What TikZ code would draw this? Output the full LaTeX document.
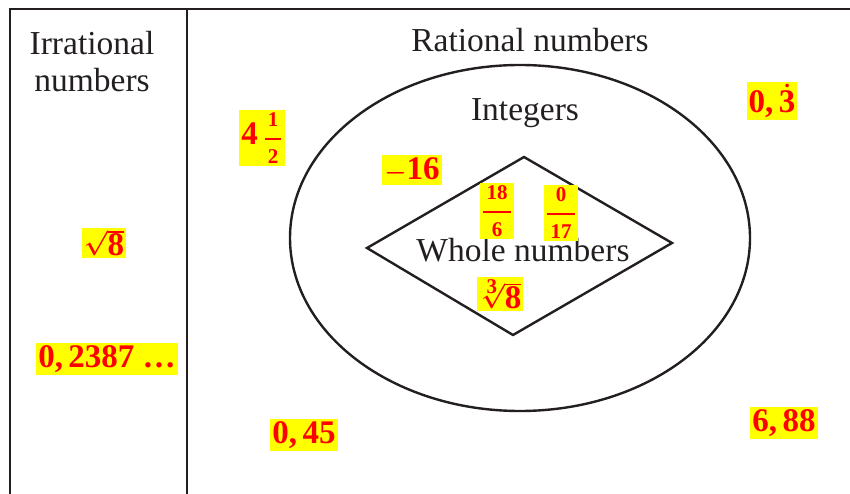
\documentclass[tikz,border=0pt]{standalone}
\usepackage{amsmath}
\usepackage{fontspec}
\setmainfont{Liberation Serif}
\definecolor{ink}{RGB}{35,31,32}
\definecolor{hl}{RGB}{255,255,0}
\newcommand\lblfont{\fontsize{33.5}{37}\selectfont}
\newcommand\numfont{\fontsize{33}{35}\selectfont\bfseries\boldmath}
\newcommand\smallnum[1]{\mbox{\fontsize{21}{21}\selectfont\bfseries #1}}
\newcommand\myfrac[2]{{\fontsize{24}{24}\selectfont$\displaystyle\genfrac{}{}{2pt}{0}{\mkern2mu\smallnum{#1}\mkern2mu}{\mkern2mu\smallnum{#2}\mkern2mu}$}}
\begin{document}
\begin{tikzpicture}[x=1pt,y=-1pt,
  lbl/.style={font=\lblfont, text=ink, anchor=base, align=center},
  num/.style={fill=hl, text=red, font=\numfont, inner sep=2pt},
  frameline/.style={draw=ink, line width=2.6pt},
  setline/.style={draw=ink, line width=2.4pt, line join=miter}]
\useasboundingbox (0,0) rectangle (850,494);
\clip (0,0) rectangle (850,494);
% frame
\draw[frameline] (10,500) -- (10,9) -- (860,9);
\draw[frameline] (187,9) -- (187,500);
% sets
\draw[setline] (520,238) ellipse [x radius=230pt, y radius=173pt];
\draw[setline] (524,157) coordinate (dt) -- (672,243) coordinate (dr) -- (513,335) coordinate (db) -- (367,248) coordinate (dl) -- cycle;
% labels
\node[lbl] (irr) at (92,92) {Irrational\\numbers};
\node[lbl] (rat) at (530,52) {Rational numbers};
\node[lbl] (int) at (525,121) {Integers};
\node[lbl] (whole) at (523,261) {Whole numbers};
% numbers
\node[num] (n1) at (262,138) {4\,\myfrac{1}{2}};
\node[num] (n2) at (412,170) {$-$16};
\node[num] (n3) at (497,211) {\myfrac{18}{6}};
\node[num] (n4) at (561,213) {\myfrac{0}{17}};
\node[num] (n5) at (500,294) {$\sqrt[\smallnum{3}]{\mbox{8}}$};
\node[num] (n6) at (772,101) {0,\,$\dot{\mbox{3}}$};
\node[num] (n7) at (784,423) {6,\,88};
\node[num] (n8) at (304,435) {0,\,45};
\node[num] (n9) at (104,243) {$\sqrt{\mbox{8}}$};
\node[num] (n10) at (107,359) {0,\,2387 \ldots};
\end{tikzpicture}
\end{document}
